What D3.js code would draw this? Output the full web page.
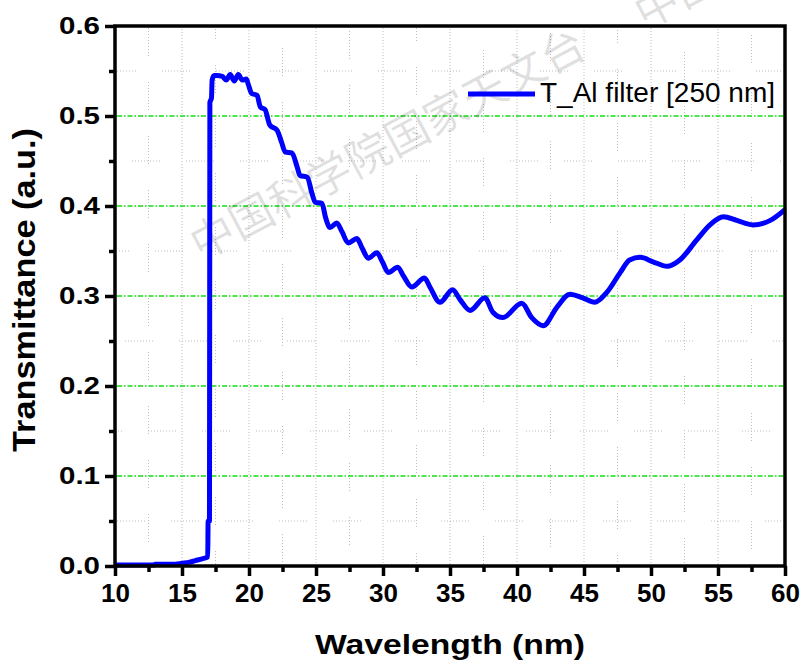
<!DOCTYPE html>
<html>
<head>
<meta charset="utf-8">
<script src="https://cdn.jsdelivr.net/npm/d3@7"></script>
<style>
  body { margin: 0; background: #fff; }
  svg { display: block; }
</style>
</head>
<body>
<svg id="chart" width="802" height="666"></svg>
<script>
// Transmission spectrum of a 250 nm Al filter
const wavelength = [
  10.0, 12.9, 13.0, 14.5, 15.0, 15.5, 16.0, 16.5, 16.92, 16.95, 17.05, 17.08,
  17.2, 17.25, 17.4, 17.6, 18.0, 18.3, 18.6, 18.9, 19.2, 19.5, 19.8, 19.95,
  20.2, 20.6, 20.85, 21.2, 21.55, 22.1, 22.45, 22.7, 23.2, 23.6, 23.8, 24.35,
  24.7, 24.95, 25.45, 25.7, 26.05, 26.55, 26.95, 27.4, 28.05, 28.45, 28.9,
  29.55, 29.95, 30.4, 31.1, 31.5, 32.15, 33.1, 33.5, 34.25, 35.2, 35.75, 36.5,
  37.6, 38.2, 38.95, 40.35, 41.1, 41.95, 43.0, 43.95, 44.9, 45.8, 46.7, 47.7,
  48.4, 49.2, 50.15, 51.2, 52.15, 53.4, 54.4, 55.4, 56.4, 57.6, 58.9, 60.0
];
const transmittance = [
  0.001, 0.001, 0.002, 0.002, 0.003, 0.004, 0.006, 0.008, 0.010, 0.050, 0.050, 0.515,
  0.520, 0.540, 0.545, 0.545, 0.544, 0.540, 0.546, 0.539, 0.546, 0.540, 0.541, 0.535,
  0.525, 0.523, 0.510, 0.507, 0.490, 0.484, 0.470, 0.460, 0.459, 0.443, 0.434, 0.432,
  0.414, 0.404, 0.403, 0.388, 0.376, 0.381, 0.371, 0.359, 0.364, 0.353, 0.342,
  0.348, 0.338, 0.326, 0.332, 0.323, 0.310, 0.320, 0.310, 0.293, 0.307, 0.296, 0.284,
  0.298, 0.282, 0.276, 0.292, 0.276, 0.267, 0.288, 0.302, 0.298, 0.293, 0.304, 0.326,
  0.340, 0.343, 0.338, 0.333, 0.340, 0.362, 0.379, 0.388, 0.384, 0.379, 0.384, 0.396
];
const xTickValues = [10, 15, 20, 25, 30, 35, 40, 45, 50, 55, 60];
const xMinorValues = [12.5, 17.5, 22.5, 27.5, 32.5, 37.5, 42.5, 47.5, 52.5, 57.5];
const yTickValues = [0, 0.1, 0.2, 0.3, 0.4, 0.5, 0.6];
const yMinorValues = [0.05, 0.15, 0.25, 0.35, 0.45, 0.55];
const seriesName = "T_Al filter [250 nm]";
const xTitle = "Wavelength (nm)";
const yTitle = "Transmittance (a.u.)";
const watermarkText = "中国科学院国家天文台";

const svg = d3.select("#chart");
const L = 115, R = 785, T = 26, B = 566;
const x = d3.scaleLinear().domain([10, 60]).range([L, R]);
const y = d3.scaleLinear().domain([0, 0.6]).range([B, T]);
const font = "'Liberation Sans', Arial, sans-serif";

// broken dotted grey grid
const dotRun = Array(9).fill("1 2").join(" ");
const brokenDash = dotRun + " 1 26";
const grid = svg.append("g").attr("stroke", "#bdbdbd").attr("stroke-width", 1).attr("fill", "none");
xMinorValues.concat(xTickValues.slice(1, -1)).forEach((v, i) => {
  const major = xTickValues.includes(v);
  grid.append("line")
    .attr("x1", x(v)).attr("x2", x(v)).attr("y1", T + 2).attr("y2", B - 2)
    .attr("stroke-dasharray", major ? "1 2" : brokenDash)
    .attr("stroke-dashoffset", (i * 17) % 53);
});
yMinorValues.forEach((v, i) => {
  grid.append("line")
    .attr("x1", L + 2).attr("x2", R - 2).attr("y1", y(v)).attr("y2", y(v))
    .attr("stroke-dasharray", brokenDash)
    .attr("stroke-dashoffset", (i * 23) % 53);
});

// green dash-dot major grid
svg.append("g").selectAll("line")
  .data(yTickValues.slice(1, -1))
  .join("line")
  .attr("x1", L + 2).attr("x2", R - 2)
  .attr("y1", d => y(d)).attr("y2", d => y(d))
  .attr("stroke", "#11e011").attr("stroke-width", 1.6)
  .attr("stroke-dasharray", "5 2 1.5 2");

// institute watermark
const wm = svg.append("g").attr("fill", "#000").attr("fill-opacity", 0.12)
  .attr("font-family", "'Noto Sans CJK SC', sans-serif").attr("font-size", 44);
wm.append("text").attr("text-anchor", "middle")
  .attr("transform", "translate(395,158) rotate(-28)").text(watermarkText);
wm.append("text").attr("text-anchor", "start")
  .attr("transform", "translate(645,30) rotate(-28)").text(watermarkText);

// spectrum
const line = d3.line().x(d => x(d[0])).y(d => y(d[1])).curve(d3.curveMonotoneX);
svg.append("path")
  .datum(wavelength.map((w, i) => [w, transmittance[i]]))
  .attr("d", line)
  .attr("fill", "none").attr("stroke", "#0000ff").attr("stroke-width", 5)
  .attr("stroke-linejoin", "round");

// axes
const xAxis = svg.append("g").attr("transform", `translate(0,${B})`)
  .call(d3.axisBottom(x).tickValues(xTickValues).tickSize(10).tickPadding(8).tickFormat(d3.format("d")));
const xMinor = svg.append("g").attr("transform", `translate(0,${B})`)
  .call(d3.axisBottom(x).tickValues(xMinorValues).tickSize(6).tickFormat(""));
const yAxis = svg.append("g").attr("transform", `translate(${L},0)`)
  .call(d3.axisLeft(y).tickValues(yTickValues).tickSize(10).tickPadding(5).tickFormat(d3.format(".1f")));
const yMinor = svg.append("g").attr("transform", `translate(${L},0)`)
  .call(d3.axisLeft(y).tickValues(yMinorValues).tickSize(6).tickFormat(""));
[xAxis, xMinor, yAxis, yMinor].forEach(g => {
  g.select(".domain").remove();
  g.selectAll(".tick line").attr("stroke", "#000").attr("stroke-width", 3.5);
});
xAxis.selectAll(".tick text")
  .attr("font-family", font).attr("font-weight", "bold").attr("font-size", 26).attr("fill", "#000");
yAxis.selectAll(".tick text")
  .attr("font-family", font).attr("font-weight", "bold").attr("font-size", 24).attr("fill", "#000")
  .attr("textLength", 41).attr("lengthAdjust", "spacingAndGlyphs");

// frame
svg.append("rect").attr("x", L).attr("y", T).attr("width", R - L).attr("height", B - T)
  .attr("fill", "none").attr("stroke", "#000").attr("stroke-width", 3.5);

// axis titles
svg.append("text").attr("x", 450).attr("y", 654).attr("text-anchor", "middle")
  .attr("font-family", font).attr("font-weight", "bold").attr("font-size", 28)
  .attr("textLength", 270).attr("lengthAdjust", "spacingAndGlyphs").text(xTitle);
svg.append("text").attr("transform", "translate(35,290) rotate(-90)").attr("text-anchor", "middle")
  .attr("font-family", font).attr("font-weight", "bold").attr("font-size", 31)
  .attr("textLength", 324).attr("lengthAdjust", "spacingAndGlyphs").text(yTitle);

// legend
svg.append("line").attr("x1", 468).attr("x2", 535).attr("y1", 94).attr("y2", 94)
  .attr("stroke", "#0000ff").attr("stroke-width", 5);
svg.append("text").attr("x", 540).attr("y", 102)
  .attr("font-family", font).attr("font-size", 27)
  .attr("textLength", 235).attr("lengthAdjust", "spacingAndGlyphs").text(seriesName);
</script>
</body>
</html>
